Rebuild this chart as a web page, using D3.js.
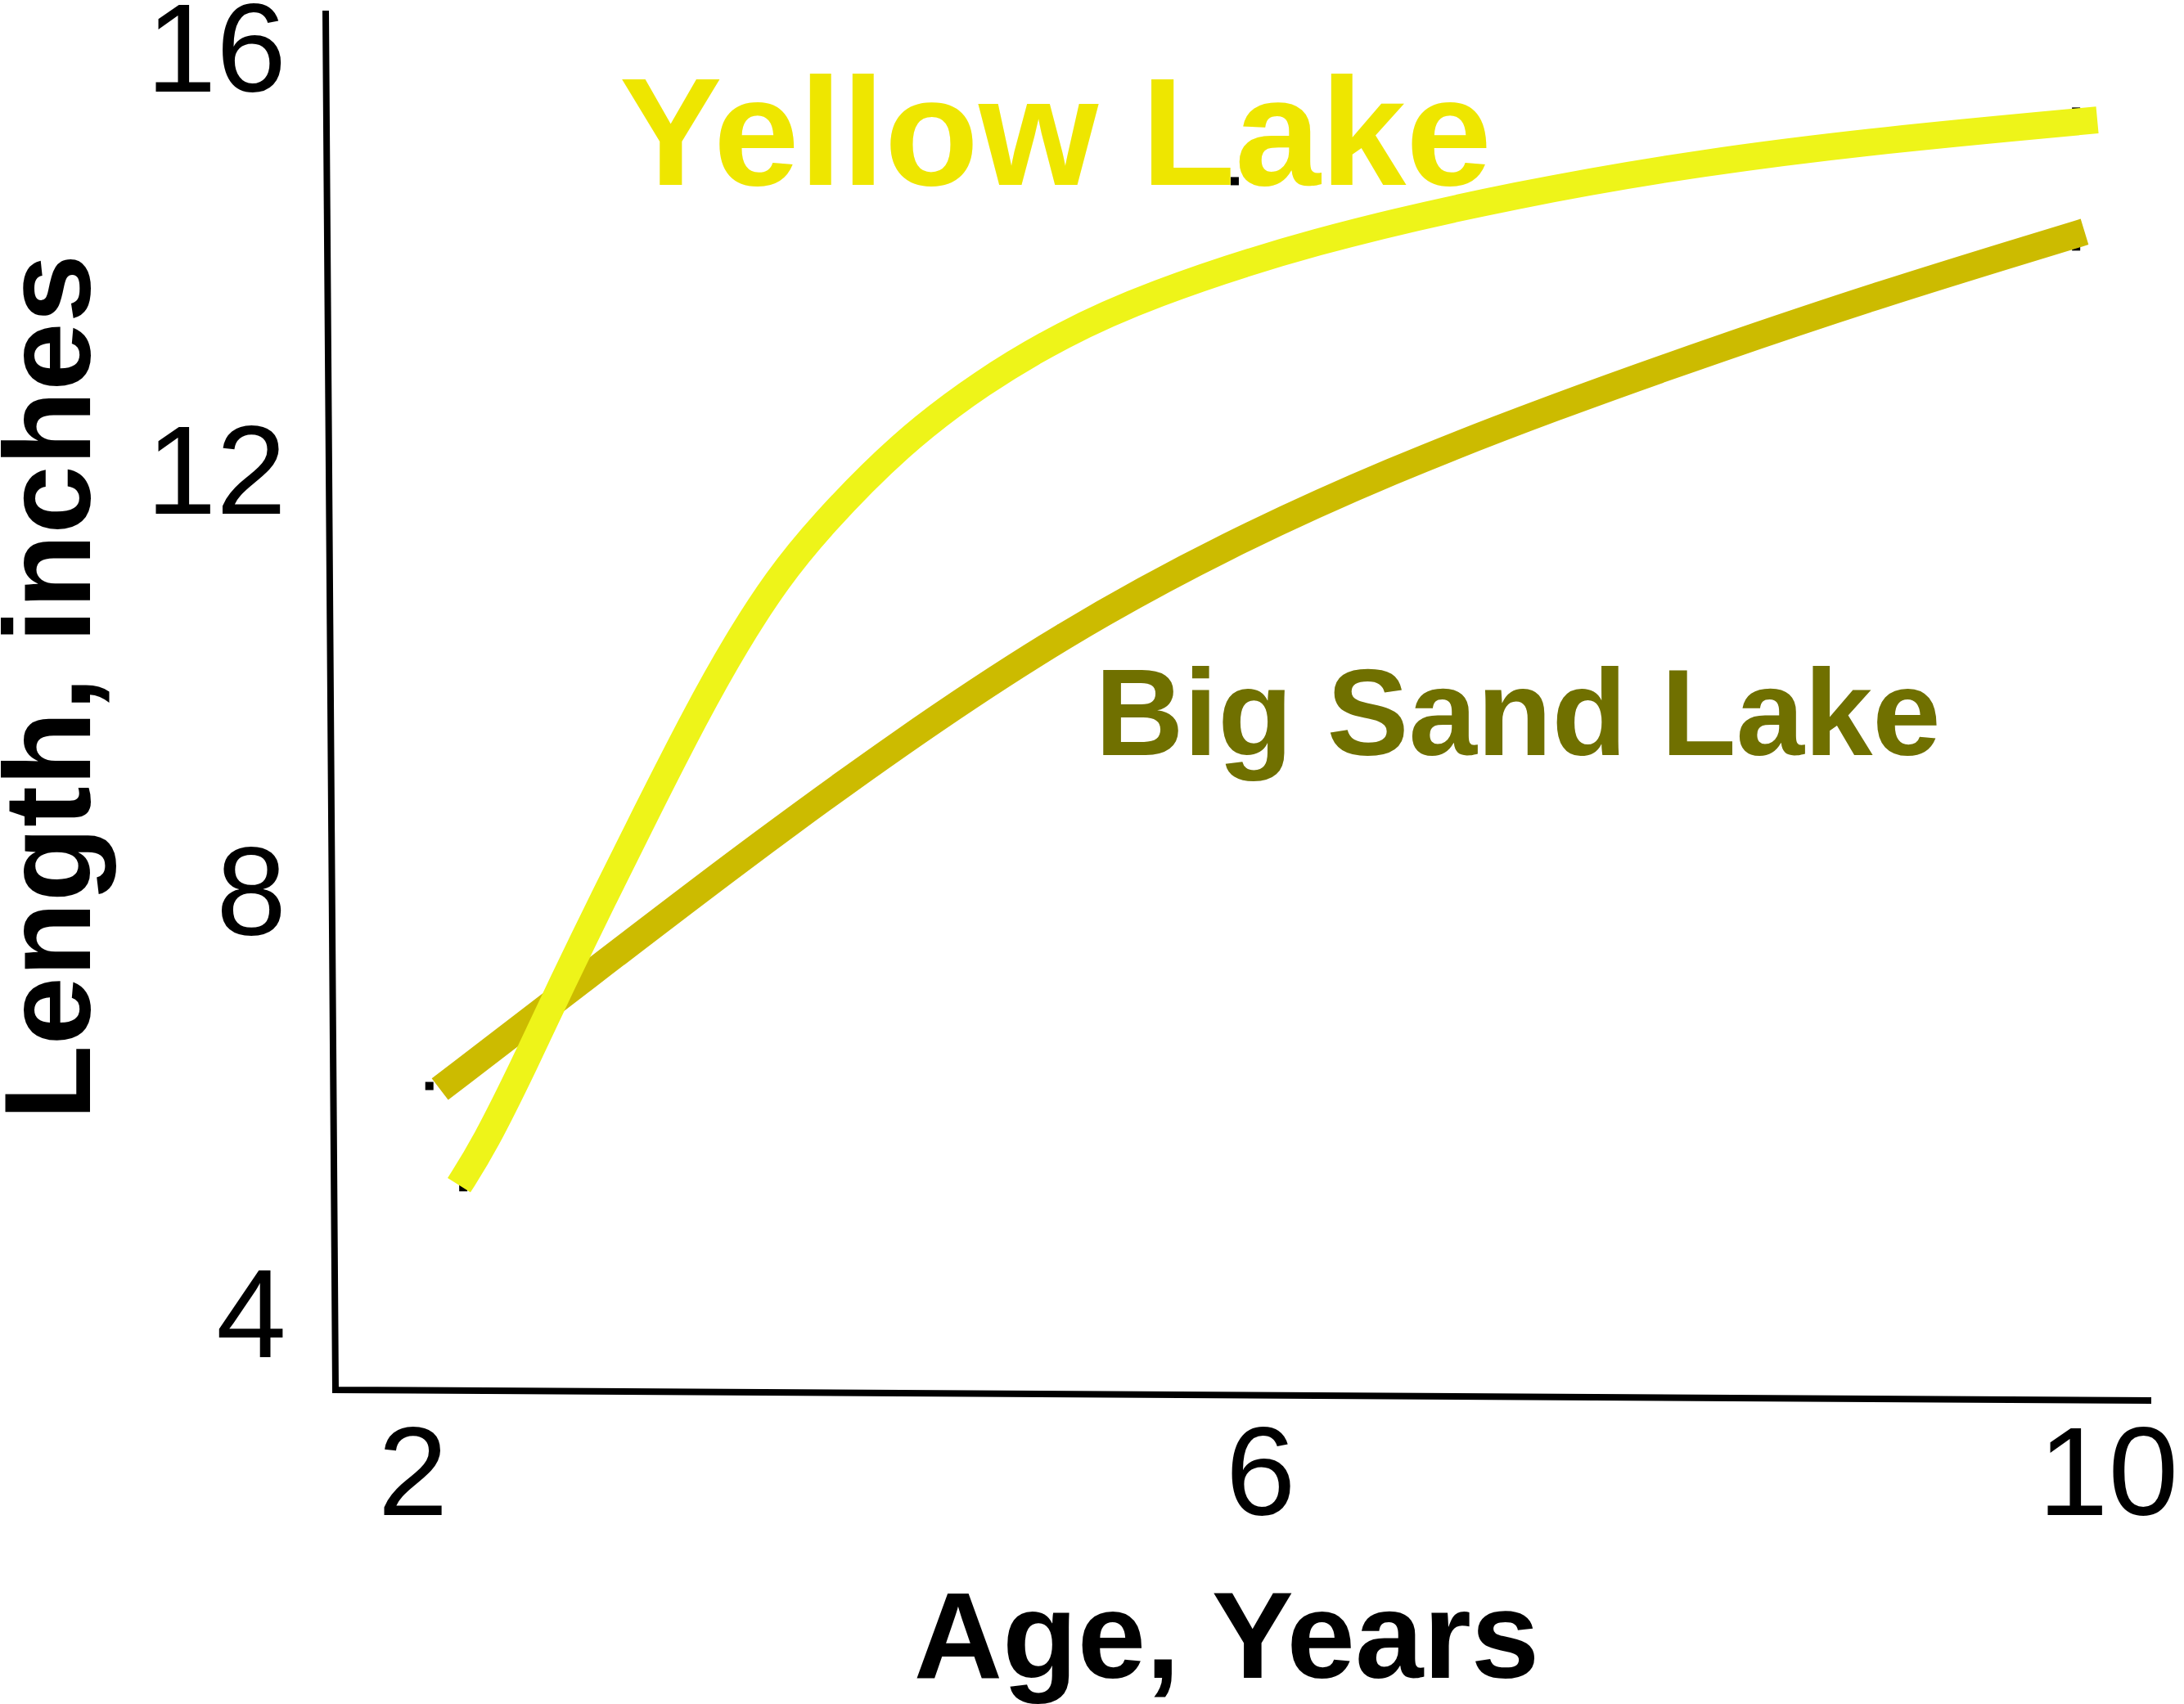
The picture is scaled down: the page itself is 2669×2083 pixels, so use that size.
<!DOCTYPE html>
<html>
<head>
<meta charset="utf-8">
<script src="https://cdn.jsdelivr.net/npm/d3@7"></script>
<style>
  html, body { margin: 0; padding: 0; background: #ffffff; }
  svg { display: block; }
</style>
</head>
<body>
<svg id="chart" width="2669" height="2083"></svg>
<script>
// ---------------- data ----------------
const xTicks = [2, 6, 10];
const yTicks = [4, 8, 12, 16];
const xTitle = "Age, Years";
const yTitle = "Length, inches";
const seriesNames = ["Big Sand Lake", "Yellow Lake"];

// Yellow Lake growth curve (age in years, length in inches)
const yellowAge = [2.22, 2.34, 2.53, 2.71, 2.90, 3.09, 3.34, 3.53, 3.72, 3.92, 4.30, 4.69, 5.07, 5.46, 6.23, 7.24, 8.09, 8.93, 9.95];
const yellowLen = [5.22, 5.60, 6.37, 7.15, 7.93, 8.70, 9.69, 10.37, 10.96, 11.46, 12.25, 12.84, 13.29, 13.65, 14.17, 14.63, 14.92, 15.13, 15.32];

// Big Sand Lake growth curve
const bigSandAge = [2.13, 2.76, 3.53, 4.30, 5.07, 5.85, 6.62, 7.39, 8.16, 8.93, 9.71, 9.89];
const bigSandLen = [6.13, 7.10, 8.29, 9.42, 10.45, 11.30, 12.00, 12.60, 13.15, 13.67, 14.15, 14.26];

// small black point markers visible around the curves
const markerAge = [2.08, 2.24, 9.85, 9.85, 5.88];
const markerLen = [6.16, 5.20, 15.40, 14.12, 14.74];

// ---------------- layout / style ----------------
const W = 2669, H = 2083;
const FONT = "'Liberation Sans', Arial, Helvetica, sans-serif";
const colYellowLine = "#EEF419";
const colYellowText = "#EEE600";
const colSandLine = "#CCBB00";
const colSandText = "#707000";

const svg = d3.select("#chart");
svg.append("rect").attr("width", W).attr("height", H).attr("fill", "#ffffff");

const x = d3.scaleLinear().domain([2, 10]).range([504, 2576]);
const y = d3.scaleLinear().domain([4, 16]).range([1606, 59]);

// axis frame (slightly slanted, as in the original)
const axisPath = d3.path();
axisPath.moveTo(398, 13);
axisPath.lineTo(410, 1699);
axisPath.lineTo(2629, 1712);
svg.append("path")
  .attr("d", axisPath.toString())
  .attr("fill", "none")
  .attr("stroke", "#000")
  .attr("stroke-width", 8)
  .attr("stroke-linejoin", "miter")
  .attr("stroke-linecap", "butt");

// y axis tick labels
const gY = svg.append("g")
  .attr("transform", "translate(404,0)")
  .call(d3.axisLeft(y).tickValues(yTicks).tickSize(0).tickPadding(54).tickFormat(d3.format("d")));
gY.select(".domain").remove();
gY.selectAll("text")
  .attr("font-family", FONT)
  .attr("font-size", 154)
  .attr("fill", "#000")
  .attr("dy", "0.34em");

// x axis tick labels
const gX = svg.append("g")
  .attr("transform", "translate(0,1705)")
  .call(d3.axisBottom(x).tickValues(xTicks).tickSize(0).tickPadding(38).tickFormat(d3.format("d")));
gX.select(".domain").remove();
gX.selectAll("text")
  .attr("font-family", FONT)
  .attr("font-size", 154)
  .attr("fill", "#000");

// axis titles
svg.append("text")
  .attr("x", 1499).attr("y", 2051)
  .attr("text-anchor", "middle")
  .attr("font-family", FONT).attr("font-weight", "bold").attr("font-size", 150)
  .attr("fill", "#000")
  .text(xTitle);

svg.append("text")
  .attr("transform", "translate(110,840) rotate(-90)")
  .attr("text-anchor", "middle")
  .attr("font-family", FONT).attr("font-weight", "bold").attr("font-size", 150)
  .attr("fill", "#000")
  .text(yTitle);

// markers (under the lines)
const markers = markerAge.map((a, i) => ({ age: a, len: markerLen[i] }));
svg.append("g").selectAll("rect").data(markers).join("rect")
  .attr("x", d => x(d.age) - 5)
  .attr("y", d => y(d.len) - 5)
  .attr("width", 10).attr("height", 10)
  .attr("fill", "#000");

// lines
const line = d3.line()
  .x(d => x(d.age))
  .y(d => y(d.len))
  .curve(d3.curveBasis);

const bigSand = bigSandAge.map((a, i) => ({ age: a, len: bigSandLen[i] }));
const yellow = yellowAge.map((a, i) => ({ age: a, len: yellowLen[i] }));

svg.append("path").datum(bigSand)
  .attr("d", line)
  .attr("fill", "none")
  .attr("stroke", colSandLine)
  .attr("stroke-width", 33)
  .attr("stroke-linecap", "butt")
  .attr("stroke-linejoin", "round");

svg.append("path").datum(yellow)
  .attr("d", line)
  .attr("fill", "none")
  .attr("stroke", colYellowLine)
  .attr("stroke-width", 33)
  .attr("stroke-linecap", "butt")
  .attr("stroke-linejoin", "round");

// series labels
svg.append("text")
  .attr("x", 1290).attr("y", 226)
  .attr("text-anchor", "middle")
  .attr("font-family", FONT).attr("font-weight", "bold").attr("font-size", 188)
  .attr("fill", colYellowText)
  .text(seriesNames[1]);

svg.append("text")
  .attr("x", 1855).attr("y", 923)
  .attr("text-anchor", "middle")
  .attr("font-family", FONT).attr("font-weight", "bold").attr("font-size", 150)
  .attr("fill", colSandText)
  .text(seriesNames[0]);
</script>
</body>
</html>
